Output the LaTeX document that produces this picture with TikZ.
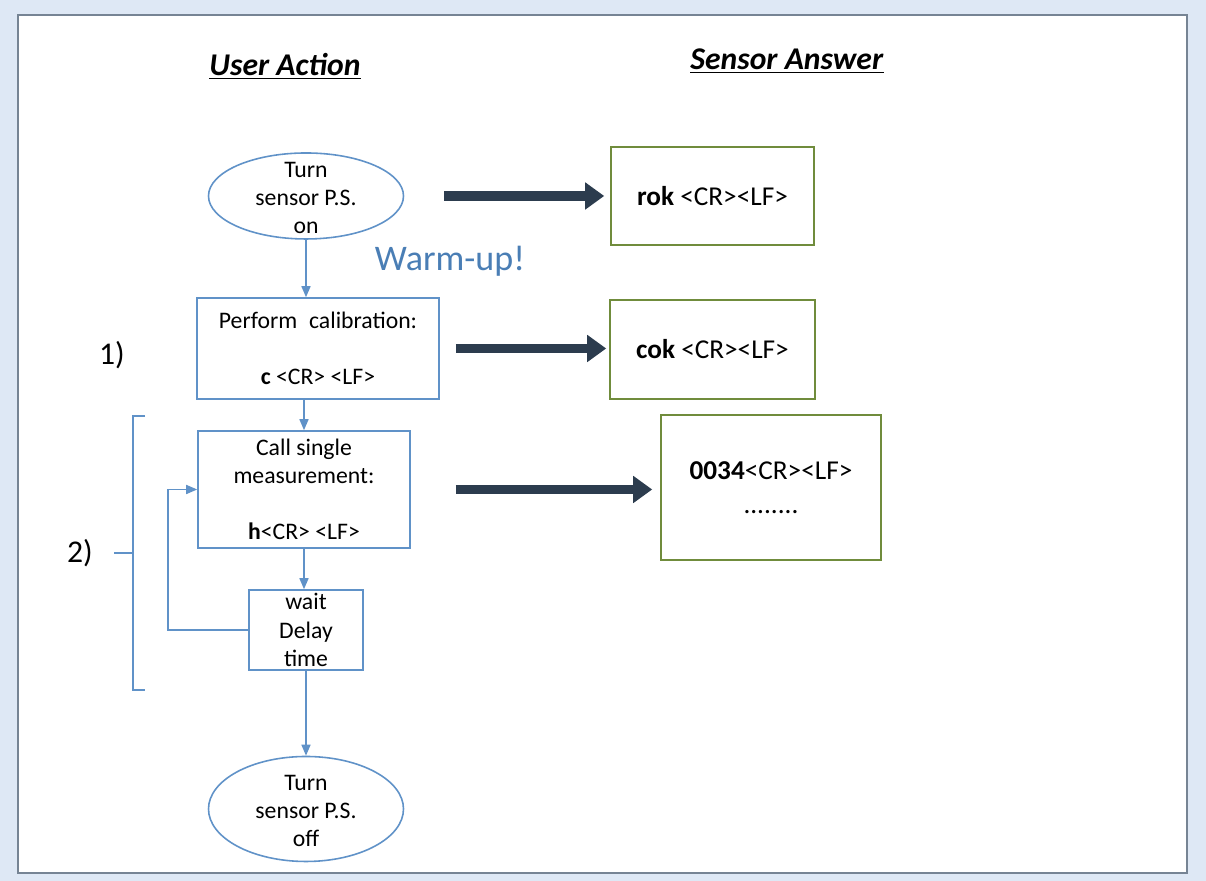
\documentclass[tikz,border=0pt]{standalone}
\usepackage{fontspec}
\setmainfont{Carlito}
\usetikzlibrary{arrows.meta,shapes}
\definecolor{bgblue}{RGB}{222,232,245}
\definecolor{framegray}{RGB}{118,132,148}
\definecolor{lineblue}{RGB}{96,146,200}
\definecolor{boxgreen}{RGB}{112,140,60}
\definecolor{arrowdark}{RGB}{44,60,78}
\definecolor{warmblue}{RGB}{74,126,181}
\newcommand{\ovaltext}[1]{\raisebox{-0.42em}[0pt][0pt]{\begin{tabular}{@{}c@{}}#1\end{tabular}}}
\tikzset{
txt/.style={font=\fontsize{13.5}{16}\selectfont, align=center, inner sep=0pt},
oval/.style={txt, ellipse, draw=lineblue, line width=0.9pt, minimum width=3.9cm},
userbox/.style={txt, rectangle, draw=lineblue, line width=0.9pt},
answerbox/.style={txt, font=\fontsize{15.5}{19}\selectfont, rectangle, draw=boxgreen, line width=0.9pt},
flow/.style={draw=lineblue, line width=0.9pt, -{Triangle[length=0.22cm,width=0.18cm]}},
bigarrow/.style={draw=arrowdark, line width=5.6pt, -{Triangle[length=0.38cm,width=0.52cm]}},
heading/.style={font=\fontsize{18}{21}\selectfont}
}
\begin{document}
\begin{tikzpicture}
	\fill[bgblue] (0,0) rectangle (24.12,17.62);
\draw[framegray, line width=1.2pt, fill=white] (0.36,0.16) rectangle (23.74,17.32);
\node[heading] (useract) at (5.70,16.30) {\underline{\textbf{\textit{User Action}}}};
\node[heading] (sensans) at (15.74,16.40) {\underline{\textbf{\textit{Sensor Answer}}}};
% user side
\node[oval, minimum height=1.72cm] (on) at (6.12,13.70) {\ovaltext{Turn\\sensor P.S.\\on}};
\node[userbox, minimum width=4.84cm, minimum height=2.02cm] (calib) at (6.36,10.65) {Perform\enspace calibration:\\[16pt]\textbf{c} <CR> <LF>};
\node[userbox, minimum width=4.24cm, minimum height=2.34cm] (meas) at (6.08,7.83) {Call single\\measurement:\\[16pt]\textbf{h}<CR> <LF>};
\node[userbox, minimum width=2.28cm, minimum height=1.6cm] (wait) at (6.12,5.02) {wait\\Delay\\time};
\node[oval, minimum height=2.1cm] (off) at (6.12,1.44) {\ovaltext{Turn\\sensor P.S.\\off}};
\node[font=\fontsize{20.5}{24}\selectfont, text=warmblue] (warm) at (9.0,12.40) {Warm-up!};
\node[font=\fontsize{18}{21}\selectfont] (one) at (2.24,10.52) {1)};
\node[font=\fontsize{18}{21}\selectfont] (two) at (1.60,6.56) {2)};
% sensor side
\node[answerbox, minimum width=4.06cm, minimum height=1.96cm] (rok) at (14.25,13.70) {\textbf{rok} <CR><LF>};
\node[answerbox, minimum width=4.1cm, minimum height=1.98cm] (cok) at (14.25,10.63) {\textbf{cok} <CR><LF>};
\node[answerbox, minimum width=4.4cm, minimum height=2.9cm] (value) at (15.42,7.87) {\textbf{0034}<CR><LF>\\........};
% connectors
\draw[flow] (on.south) -- (on.south |- calib.north);
\draw[flow] (meas.north |- calib.south) -- (meas.north);
\draw[flow] (meas.south) -- (meas.south |- wait.north);
\draw[flow] (wait.south) -- (off.north);
\draw[flow] (wait.west) -- ++(-1.6,0) |- (meas.west);
\draw[bigarrow, shorten <=0.8cm, shorten >=0.12cm] (on.east) -- (on.east -| rok.west);
\draw[bigarrow, shorten <=0.32cm, shorten >=0.06cm] (calib.east) -- (calib.east -| cok.west);
\draw[bigarrow, shorten <=0.9cm, shorten >=0.16cm] (meas.east) -- (meas.east -| value.west);
% bracket of 2)
\draw[lineblue, line width=0.9pt] (2.90,9.30) -- (2.66,9.30) -- (2.66,3.82) -- (2.90,3.82);
\draw[lineblue, line width=0.9pt] (2.28,6.56) -- (2.66,6.56);
	\end{tikzpicture}
\end{document}
